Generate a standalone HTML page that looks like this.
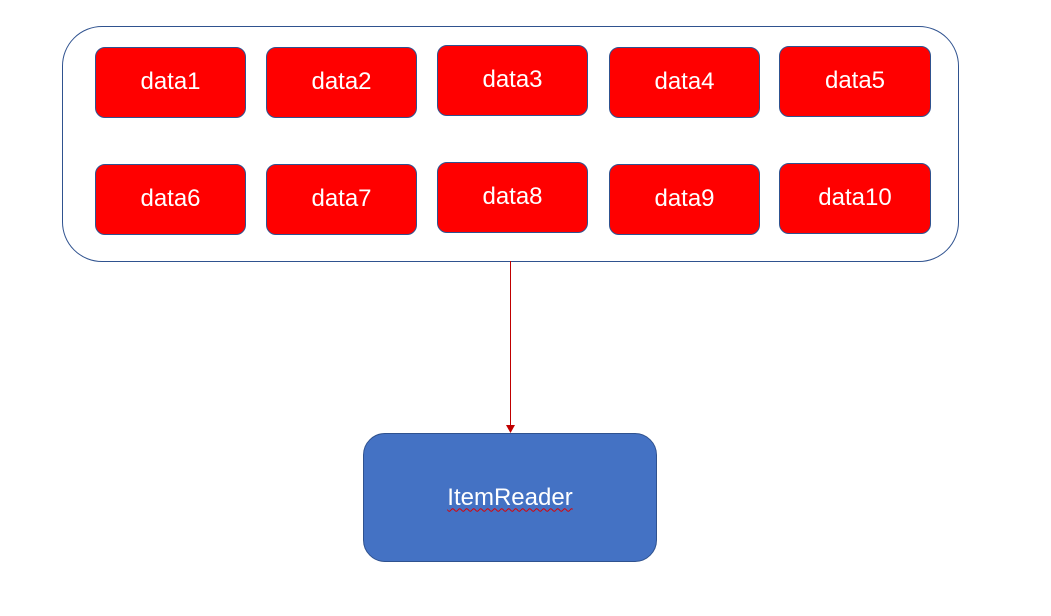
<!DOCTYPE html>
<html><head><style>
body{margin:0;width:1051px;height:616px;background:#fff;position:relative;overflow:hidden;font-family:"Liberation Sans",sans-serif}
.c{position:absolute;left:62px;top:26px;width:897px;height:236px;border:1px solid #2f528f;border-radius:40px;box-sizing:border-box}
.b{position:absolute;width:151px;height:71px;background:#f00;border:1px solid #2f528f;border-radius:10px;box-sizing:border-box;color:#fff;font-size:24px;display:flex;align-items:center;justify-content:center;padding-bottom:2px}
.r{position:absolute;left:363px;top:433px;width:294px;height:129px;background:#4472c4;border:1px solid #2f528f;border-radius:22px;box-sizing:border-box;color:#fff;font-size:24px;display:flex;align-items:center;justify-content:center}
.r span{text-decoration:underline wavy #d00;text-decoration-thickness:1px;text-underline-offset:3px}
</style></head><body>
<div class="c"></div>
<div class="b" style="left:95px;top:47px">data1</div>
<div class="b" style="left:266px;top:47px">data2</div>
<div class="b" style="left:437px;top:45px">data3</div>
<div class="b" style="left:609px;top:47px">data4</div>
<div class="b" style="left:779px;top:46px;width:152px">data5</div>
<div class="b" style="left:95px;top:164px">data6</div>
<div class="b" style="left:266px;top:164px">data7</div>
<div class="b" style="left:437px;top:162px">data8</div>
<div class="b" style="left:609px;top:164px">data9</div>
<div class="b" style="left:779px;top:163px;width:152px">data10</div>
<svg style="position:absolute;left:0;top:0" width="1051" height="616">
<line x1="510.5" y1="261" x2="510.5" y2="426" stroke="#c00000" stroke-width="1"/>
<polygon points="506,425 515,425 510.5,433" fill="#c00000"/>
</svg>
<div class="r"><span>ItemReader</span></div>
</body></html>
